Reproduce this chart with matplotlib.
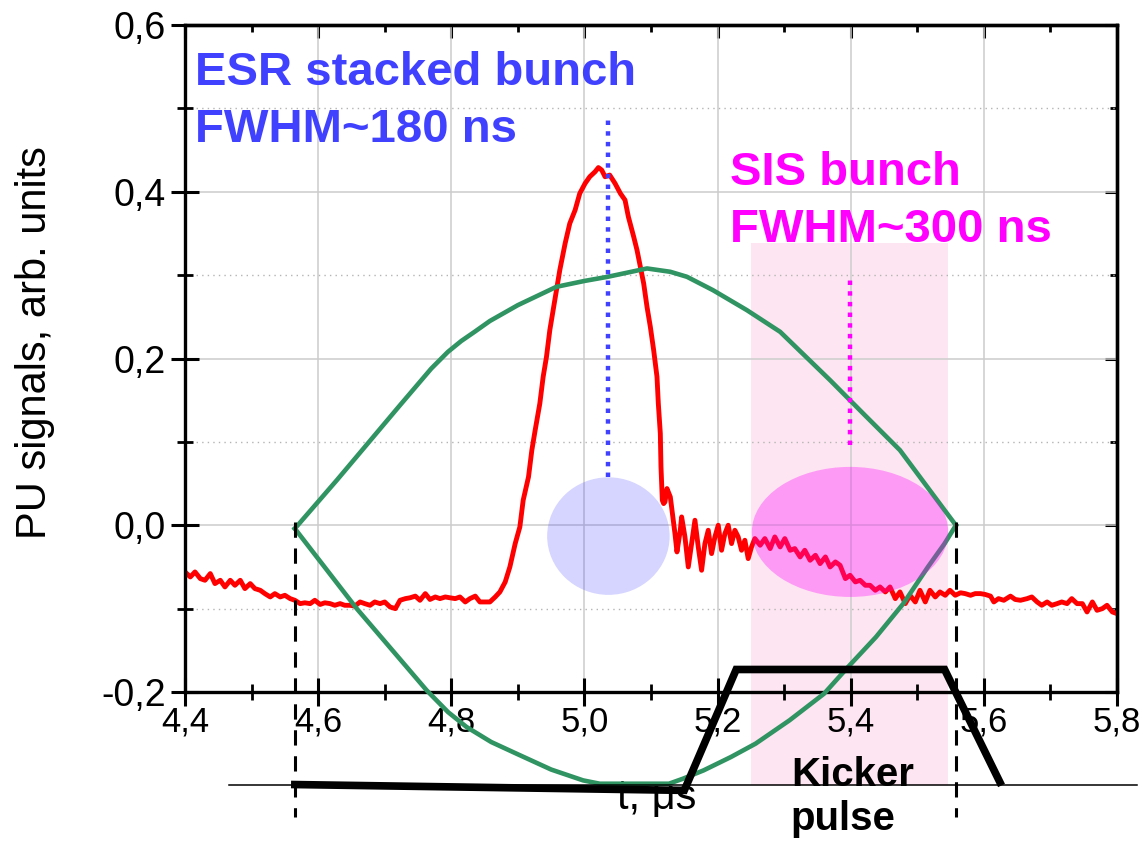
import matplotlib
matplotlib.use("Agg")
import matplotlib.pyplot as plt
from matplotlib.patches import Ellipse, Rectangle
from matplotlib.ticker import MultipleLocator

plt.rcParams['font.family'] = ['Liberation Sans', 'DejaVu Sans']

# pick-up signal of the stacked ESR bunch, t in us
red_t = [4.400, 4.408, 4.415, 4.423, 4.430, 4.438, 4.445, 4.453, 4.460, 4.468, 4.475, 4.483,
         4.490, 4.498, 4.505, 4.513, 4.520, 4.528, 4.535, 4.543, 4.550, 4.558, 4.565, 4.573,
         4.580, 4.588, 4.595, 4.603, 4.610, 4.618, 4.625, 4.633, 4.640, 4.648,
         4.655, 4.663, 4.670, 4.678, 4.685, 4.693, 4.700, 4.708, 4.716, 4.723, 4.731, 4.738,
         4.746, 4.753, 4.761, 4.768, 4.776, 4.783, 4.791, 4.798, 4.806, 4.813, 4.821, 4.828,
         4.836, 4.843, 4.851, 4.858, 4.866, 4.873, 4.881,
         4.888, 4.896, 4.903, 4.908, 4.916, 4.921, 4.926, 4.933, 4.938, 4.943, 4.948, 4.953,
         4.958, 4.963, 4.971, 4.978, 4.986, 4.993, 5.001, 5.008, 5.016, 5.021, 5.026, 5.031,
         5.038, 5.046, 5.054, 5.061, 5.066, 5.074, 5.079, 5.084, 5.089, 5.094, 5.099, 5.104,
         5.109, 5.111, 5.114, 5.115, 5.117,
         5.119, 5.121, 5.124, 5.129, 5.136, 5.139, 5.144, 5.146, 5.151, 5.156, 5.161, 5.166,
         5.171, 5.176, 5.181, 5.186, 5.191, 5.196, 5.201, 5.206, 5.211, 5.216, 5.221, 5.226,
         5.231, 5.236, 5.241, 5.246, 5.251, 5.256, 5.264, 5.271, 5.279, 5.286, 5.294, 5.301,
         5.309, 5.316, 5.324,
         5.331, 5.339, 5.347, 5.354, 5.362, 5.369, 5.377, 5.384, 5.392, 5.399, 5.407, 5.414,
         5.422, 5.429, 5.437, 5.444, 5.452, 5.459, 5.467, 5.474, 5.482, 5.489, 5.497, 5.504,
         5.512, 5.519, 5.527, 5.534, 5.542, 5.549, 5.557, 5.565,
         5.572, 5.580, 5.587, 5.595, 5.602, 5.610, 5.615, 5.622, 5.630, 5.640, 5.647, 5.655,
         5.665, 5.672, 5.680, 5.687, 5.695, 5.702, 5.710, 5.717, 5.725, 5.732, 5.740, 5.748,
         5.755, 5.763, 5.770, 5.778, 5.785, 5.793, 5.800]
red_u = [-0.056, -0.062, -0.056, -0.064, -0.066, -0.058, -0.070, -0.066, -0.074, -0.066, -0.072, -0.066,
         -0.076, -0.070, -0.076, -0.078, -0.082, -0.086, -0.082, -0.086, -0.084, -0.088, -0.090, -0.094,
         -0.093, -0.094, -0.090, -0.095, -0.093, -0.094, -0.096, -0.094, -0.096, -0.096,
         -0.097, -0.092, -0.094, -0.096, -0.092, -0.094, -0.092, -0.098, -0.100, -0.090, -0.088, -0.087,
         -0.085, -0.090, -0.082, -0.089, -0.086, -0.088, -0.086, -0.087, -0.088, -0.086, -0.092, -0.088,
         -0.085, -0.092, -0.092, -0.092, -0.086, -0.080, -0.068,
         -0.050, -0.022, -0.002, 0.030, 0.058, 0.090, 0.114, 0.146, 0.178, 0.202, 0.234, 0.258,
         0.282, 0.306, 0.338, 0.362, 0.378, 0.398, 0.410, 0.418, 0.424, 0.429, 0.426, 0.418,
         0.420, 0.410, 0.398, 0.390, 0.370, 0.346, 0.330, 0.310, 0.290, 0.262, 0.238, 0.210,
         0.178, 0.146, 0.110, 0.070, 0.030,
         0.026, 0.028, 0.044, 0.034, -0.010, -0.032, -0.006, 0.010, -0.014, -0.050, -0.022, 0.006,
         -0.026, -0.054, -0.022, -0.006, -0.034, -0.014, 0.000, -0.030, -0.010, 0.000, -0.022, -0.006,
         -0.014, -0.030, -0.018, -0.040, -0.026, -0.016, -0.024, -0.016, -0.028, -0.014, -0.026, -0.016,
         -0.030, -0.028, -0.038,
         -0.030, -0.042, -0.036, -0.046, -0.038, -0.050, -0.044, -0.048, -0.064, -0.060, -0.068, -0.066,
         -0.072, -0.072, -0.078, -0.074, -0.080, -0.074, -0.088, -0.080, -0.094, -0.084, -0.092, -0.078,
         -0.092, -0.078, -0.086, -0.080, -0.084, -0.078, -0.084, -0.081,
         -0.082, -0.084, -0.082, -0.082, -0.083, -0.085, -0.092, -0.088, -0.090, -0.085, -0.089, -0.090,
         -0.088, -0.086, -0.092, -0.096, -0.092, -0.096, -0.094, -0.092, -0.094, -0.088, -0.094, -0.094,
         -0.104, -0.092, -0.102, -0.100, -0.096, -0.104, -0.106]

# separatrix of the SIS bucket (upper and lower half)
sep_up_t = [4.565, 4.628, 4.723, 4.770, 4.795, 4.815, 4.835, 4.858, 4.900, 4.958, 5.000, 5.035,
            5.094, 5.129, 5.154, 5.193, 5.244, 5.294, 5.369, 5.420, 5.474, 5.542, 5.558]
sep_up_u = [-0.004, 0.054, 0.144, 0.188, 0.208, 0.221, 0.232, 0.245, 0.264, 0.286, 0.293, 0.298,
            0.308, 0.304, 0.298, 0.282, 0.258, 0.232, 0.174, 0.133, 0.090, 0.017, 0.000]
sep_lo_t = [4.565, 4.658, 4.763, 4.795, 4.823, 4.860, 4.898, 4.950, 4.998, 5.023, 5.127, 5.148,
            5.179, 5.220, 5.257, 5.308, 5.360, 5.396, 5.438, 5.479, 5.516, 5.541, 5.558]
sep_lo_u = [-0.004, -0.100, -0.198, -0.224, -0.242, -0.260, -0.274, -0.293, -0.306, -0.310, -0.310,
            -0.304, -0.294, -0.278, -0.262, -0.234, -0.202, -0.170, -0.134, -0.094, -0.050, -0.022, 0.000]

# kicker pulse shape
kick_t = [4.565, 5.150, 5.228, 5.541, 5.624]
kick_u = [-0.311, -0.318, -0.173, -0.173, -0.308]
kick_base = -0.311

# bunch markers: centre, FWHM width / height of the ellipses, dotted line span
esr_t, esr_u, esr_w, esr_h = 5.036, -0.013, 0.184, 0.141
esr_line = (0.058, 0.486)
sis_t, sis_u, sis_w, sis_h = 5.399, -0.008, 0.295, 0.156
sis_line = (0.096, 0.300)
sis_band = (5.250, 5.546, -0.311, 0.338)
sep_edges = [4.565, 5.558]

x_ticks = [4.4, 4.6, 4.8, 5.0, 5.2, 5.4, 5.6, 5.8]
x_tick_labels = ['4,4', '4,6', '4,8', '5,0', '5,2', '5,4', '5,6', '5,8']
y_ticks = [-0.2, 0.0, 0.2, 0.4, 0.6]
y_tick_labels = ['-0,2', '0,0', '0,2', '0,4', '0,6']

blue = '#4040ff'
magenta = '#ff00ff'
green = '#2f9362'

fig = plt.figure(figsize=(11.4, 8.48), dpi=100)
ax = fig.add_axes([185 / 1140, 1 - 692 / 848, 932 / 1140, 667 / 848])
ax.set_xlim(4.4, 5.8)
ax.set_ylim(-0.2, 0.6)

ax.set_axisbelow(True)
ax.grid(which='major', color='#cccccc', lw=1.1, ls='-')
ax.yaxis.grid(True, which='minor', color='#b4b4b4', lw=1.0, ls=(0, (1, 3)))

# SIS bunch region
ax.add_patch(Rectangle((sis_band[0], sis_band[2]), sis_band[1] - sis_band[0],
                       sis_band[3] - sis_band[2], fc='#fde6f1', ec='none',
                       zorder=0.3, clip_on=False))

ax.add_patch(Ellipse((esr_t, esr_u), esr_w, esr_h, fc=blue, alpha=0.22, ec='none', zorder=1))

ax.plot(red_t, red_u, color='#ff0000', lw=3.5, zorder=2.5)

ax.plot(sep_up_t, sep_up_u, color=green, lw=3.3, zorder=3, clip_on=False)
ax.plot(sep_lo_t, sep_lo_u, color=green, lw=3.3, zorder=3, clip_on=False)

ax.add_patch(Ellipse((sis_t, sis_u), sis_w, sis_h, fc=magenta, alpha=0.33, ec='none', zorder=3.5))

ax.plot([4.466, 5.830], [kick_base, kick_base], color='black', lw=1.1, zorder=3.6, clip_on=False)
ax.plot(kick_t, kick_u, color='black', lw=5.5, zorder=4,
        solid_joinstyle='miter', clip_on=False)

for te in sep_edges:
    ax.plot([te, te], [0.004, -0.350], color='black', lw=2.2, ls=(0, (5, 3.5)),
            zorder=5, clip_on=False)

ax.plot([esr_t, esr_t], esr_line, color=blue, lw=3.2, ls=(0, (1, 1.4)),
        dash_capstyle='butt', zorder=5)
ax.plot([sis_t, sis_t], sis_line, color=magenta, lw=3.2, ls=(0, (1, 1.4)),
        dash_capstyle='butt', zorder=5)

# baseline alignment of a two-line text sits on its last line
ax.text(4.415, 0.460, 'ESR stacked bunch\nFWHM~180 ns', color=blue, fontsize=34,
        fontweight='bold', va='baseline', ha='left', linespacing=1.38, zorder=6)
ax.text(5.219, 0.340, 'SIS bunch\nFWHM~300 ns', color=magenta, fontsize=34,
        fontweight='bold', va='baseline', ha='left', linespacing=1.38, zorder=6)
ax.text(5.310, -0.366, 'Kicker\npulse', color='black', fontsize=29,
        fontweight='bold', va='baseline', ha='left', linespacing=1.2, zorder=6,
        clip_on=False)

ax.set_xticks(x_ticks)
ax.set_xticklabels(x_tick_labels)
ax.set_yticks(y_ticks)
ax.set_yticklabels(y_tick_labels)
ax.xaxis.set_minor_locator(MultipleLocator(0.1))
ax.yaxis.set_minor_locator(MultipleLocator(0.1))
ax.tick_params(which='major', direction='inout', length=20, width=2.2, labelsize=27)
ax.tick_params(which='minor', direction='inout', length=11, width=2.0)
ax.tick_params(axis='x', which='major', pad=0, labelsize=25)
ax.tick_params(axis='y', which='major', pad=4)
for s in ax.spines.values():
    s.set_linewidth(2.4)

# inward ticks on top and right
top = ax.secondary_xaxis('top')
top.set_xticks(x_ticks)
top.set_xticklabels([])
top.xaxis.set_minor_locator(MultipleLocator(0.1))
top.tick_params(which='major', direction='in', length=9, width=2.2)
top.tick_params(which='minor', direction='in', length=5, width=2.0)
top.spines['top'].set_linewidth(2.4)
right = ax.secondary_yaxis('right')
right.set_yticks(y_ticks)
right.set_yticklabels([])
right.yaxis.set_minor_locator(MultipleLocator(0.1))
right.tick_params(which='major', direction='in', length=9, width=2.2)
right.tick_params(which='minor', direction='in', length=5, width=2.0)
right.spines['right'].set_linewidth(2.4)

ax.set_xlabel('t, μs', fontsize=30, va='center')
ax.xaxis.set_label_coords(0.506, -0.159)
ax.set_ylabel('PU signals, arb. units', fontsize=30, va='center')
ax.yaxis.set_label_coords(-0.161, 0.524)

fig.savefig('out.png', dpi=100)
